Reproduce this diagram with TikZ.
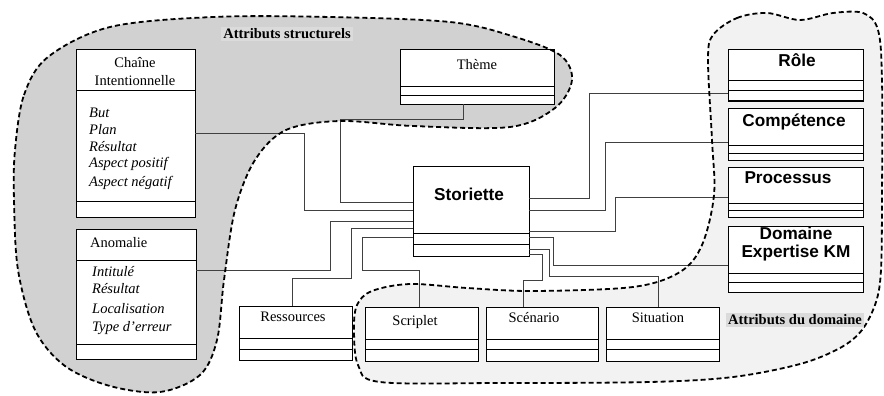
\documentclass[tikz,border=0pt]{standalone}
\usepackage{fontspec}
\setmainfont{Liberation Serif}
\newfontfamily\arialfont{Liberation Sans}
\begin{document}
\begin{tikzpicture}[x=1pt,y=-1pt,
  box/.style={draw=black,line width=1pt,fill=white,anchor=north west,inner sep=0pt,outer sep=0pt},
  conn/.style={draw=black!75,line width=1pt},
  blobline/.style={draw=black,line width=1.8pt,dash pattern=on 5pt off 3pt},
  tm/.style={font=\fontsize{14.5}{17}\selectfont,inner sep=0pt},
  ti/.style={font=\fontsize{14.5}{17}\selectfont\itshape,inner sep=0pt,anchor=west},
  ar/.style={font=\arialfont\bfseries\fontsize{17.2}{19}\selectfont,inner sep=0pt,align=center},
  lab/.style={font=\bfseries\fontsize{14.5}{17}\selectfont,fill=black!14,inner sep=2pt}]
\useasboundingbox (0,0) rectangle (884,396);
% blobs
\fill[black!18] plot[smooth cycle,tension=0.55] coordinates {(15,150) (24,95) (48,57) (110,27) (213,17) (330,17) (450,22) (512,36) (560,55) (572,80) (555,108) (510,127) (413,126) (340,121) (286,130) (255,160) (235,210) (224,280) (217,340) (200,375) (160,392) (110,386) (65,366) (35,330) (18,270) (14,200)};
\fill[black!5] plot[smooth cycle,tension=0.55] coordinates {(713,35) (737,18) (767,13) (800,20) (833,13) (863,13) (878,30) (882,80) (882,200) (881,270) (876,302) (862,330) (840,348) (800,364) (733,377) (650,382) (500,383) (380,382) (358,365) (354,330) (357,305) (372,291) (410,284) (467,288) (533,291) (633,287) (680,272) (702,245) (714,195) (712,140) (708,60)};
% boxes
\node[box,minimum width=119pt,minimum height=167pt] (chaine) at (76,50) {};
\node[box,minimum width=120pt,minimum height=130pt] (anom) at (76,229) {};
\node[box,minimum width=154pt,minimum height=54pt] (theme) at (400,50) {};
\node[box,minimum width=116pt,minimum height=90pt] (stor) at (413,166) {};
\node[box,minimum width=135pt,minimum height=51pt] (role) at (728,50) {};
\node[box,minimum width=135pt,minimum height=52pt] (comp) at (728,108) {};
\node[box,minimum width=135pt,minimum height=50pt] (proc) at (728,167) {};
\node[box,minimum width=135pt,minimum height=66pt] (dom) at (728,226) {};
\node[box,minimum width=113pt,minimum height=54pt] (res) at (239,306) {};
\node[box,minimum width=113pt,minimum height=54pt] (scrip) at (365,307) {};
\node[box,minimum width=112pt,minimum height=54pt] (scen) at (486,307) {};
\node[box,minimum width=113pt,minimum height=54pt] (sit) at (606,307) {};
% compartments
\foreach \n/\a/\b in {chaine/91/201, anom/260/344, theme/87/96, stor/233/244, role/81/91, comp/145/153, proc/203/210, dom/273/282, res/338/349, scrip/339/349, scen/339/349, sit/339/349}{
  \draw[line width=1pt] (\n.west |- 0,\a) -- (\n.east |- 0,\a);
  \draw[line width=1pt] (\n.west |- 0,\b) -- (\n.east |- 0,\b);
}
% connectors
\draw[conn] (theme.south -| 463,0) |- (340,119) |- (stor.west |- 0,202);
\draw[conn] (chaine.east |- 0,133) -| (304,210) -- (stor.west |- 0,210);
\draw[conn] (anom.east |- 0,270) -| (330,221) -- (stor.west |- 0,221);
\draw[conn] (res.north -| 292,0) |- (351,278) |- (stor.west |- 0,228);
\draw[conn] (scrip.north -| 419,0) |- (362,270) |- (stor.west |- 0,237);
\draw[conn] (scen.north -| 523,0) |- (542,280) |- (stor.east |- 0,254);
\draw[conn] (sit.north -| 658,0) |- (549,276) |- (stor.east |- 0,249);
\draw[conn] (dom.west |- 0,265) -| (553,237) -- (stor.east |- 0,237);
\draw[conn] (proc.west |- 0,197) -| (615,231) -- (stor.east |- 0,231);
\draw[conn] (comp.west |- 0,142) -| (605,210) -- (stor.east |- 0,210);
\draw[conn] (role.west |- 0,94) -| (589,198) -- (stor.east |- 0,198);
% blob outlines
\draw[blobline] plot[smooth cycle,tension=0.55] coordinates {(15,150) (24,95) (48,57) (110,27) (213,17) (330,17) (450,22) (512,36) (560,55) (572,80) (555,108) (510,127) (413,126) (340,121) (286,130) (255,160) (235,210) (224,280) (217,340) (200,375) (160,392) (110,386) (65,366) (35,330) (18,270) (14,200)};
\draw[blobline] plot[smooth cycle,tension=0.55] coordinates {(713,35) (737,18) (767,13) (800,20) (833,13) (863,13) (878,30) (882,80) (882,200) (881,270) (876,302) (862,330) (840,348) (800,364) (733,377) (650,382) (500,383) (380,382) (358,365) (354,330) (357,305) (372,291) (410,284) (467,288) (533,291) (633,287) (680,272) (702,245) (714,195) (712,140) (708,60)};
% texts
\node[lab] (lstruct) at (287,34) {Attributs structurels};
\node[lab] (ldom) at (795,320) {Attributs du domaine};
\node[tm] (tchaine1) at (135,63) {Chaîne};
\node[tm] (tchaine2) at (135,81) {Intentionnelle};
\node[ti] (a1) at (89,113) {But};
\node[ti] (a2) at (89,130) {Plan};
\node[ti] (a3) at (89,147) {Résultat};
\node[ti] (a4) at (89,164) {Aspect positif};
\node[ti] (a5) at (89,183) {Aspect négatif};
\node[tm,anchor=west] (tanom) at (90,243) {Anomalie};
\node[ti] (b1) at (92,272) {Intitulé};
\node[ti] (b2) at (92,289) {Résultat};
\node[ti] (b3) at (92,309) {Localisation};
\node[ti] (b4) at (92,328) {Type d'erreur};
\node[tm] (ttheme) at (477,65) {Thème};
\node[ar] (tstor) at (469,194) {Storiette};
\node[ar] (trole) at (797,60) {Rôle};
\node[ar] (tcomp) at (794,122) {Compétence};
\node[ar] (tproc) at (788,178) {Processus};
\node[ar] (tdom) at (796,244) {Domaine\\[-1pt]Expertise KM};
\node[tm] (tres) at (293,317) {Ressources};
\node[tm] (tscrip) at (415,322) {Scriplet};
\node[tm] (tscen) at (534,318) {Scénario};
\node[tm] (tsit) at (658,318) {Situation};
\end{tikzpicture}
\end{document}
